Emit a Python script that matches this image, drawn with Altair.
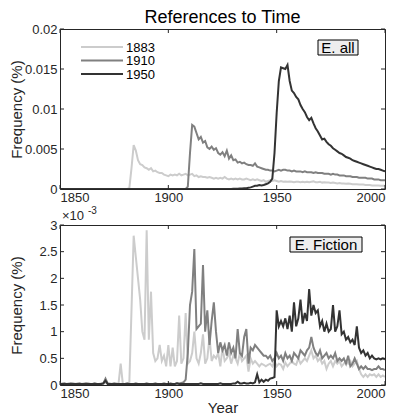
import altair as alt
import pandas as pd

# ---------------- data ----------------
years = list(range(1850, 2001))
series_names = ["1883", "1910", "1950"]
gray_colors = ["#cccccc", "#808080", "#333333"]
x_ticks = [1850, 1900, 1950, 2000]
y_ticks_all = [0, 0.005, 0.01, 0.015, 0.02]
y_ticks_fic = [0, 0.5, 1, 1.5, 2, 2.5, 3]
panel_labels = ["E. all", "E. Fiction"]
chart_title = "References to Time"
y_title = "Frequency (%)"
x_title = "Year"
exp_base = "\u00d710"
exp_power = "-3"

# "E. all" panel, values in units of 1e-3 percent (one value per year 1850..2000)
all_1883 = [
    0, 0, 0, 0, 0, 0, 0, 0, 0, 0,
    0, 0, 0, 0, 0, 0, 0, 0, 0, 0,
    0, 0, 0, 0, 0, 0, 0, 0, 0, 0,
    0, 0, 0.1, 2.6, 5.5, 4.8, 3.6, 3.1, 3.0, 2.7,
    2.6, 2.4, 2.6, 2.2, 2.3, 2.1, 2.0, 2.0, 1.8, 1.7,
    1.6, 1.8, 1.7, 1.8, 1.7, 1.9, 1.7, 1.8, 1.9, 1.7,
    1.8, 1.9, 1.6, 1.7, 1.5, 1.6, 1.5, 1.5, 1.4, 1.5,
    1.4, 1.3, 1.4, 1.3, 1.4, 1.3, 1.5, 1.3, 1.2, 1.3,
    1.2, 1.3, 1.2, 1.3, 1.2, 1.2, 1.3, 1.2, 1.1, 1.2,
    1.1, 1.2, 1.1, 1.0, 1.1, 0.9, 1.0, 1.1, 1.0, 1.1,
    1.0, 0.9, 1.0, 0.9, 0.95, 0.9, 0.95, 0.9, 0.85, 0.9,
    0.9, 0.85, 0.9, 0.85, 0.9, 0.85, 0.9, 0.95, 0.85, 0.85,
    0.9, 0.8, 0.85, 0.8, 0.8, 0.75, 0.8, 0.75, 0.7, 0.75,
    0.7, 0.7, 0.65, 0.7, 0.65, 0.6, 0.6, 0.6, 0.55, 0.55,
    0.55, 0.5, 0.5, 0.5, 0.45, 0.45, 0.45, 0.45, 0.4, 0.4,
    0.4,
]
all_1910 = [
    0, 0, 0, 0, 0, 0, 0, 0, 0, 0,
    0, 0, 0, 0, 0, 0, 0, 0, 0, 0,
    0, 0, 0, 0, 0, 0, 0, 0, 0, 0,
    0, 0, 0, 0, 0, 0, 0, 0, 0, 0,
    0, 0, 0, 0, 0, 0, 0, 0, 0, 0,
    0, 0, 0, 0, 0, 0, 0, 0, 0, 0.3,
    4.5, 8.0, 7.8, 7.0, 6.2, 6.5, 5.8, 6.0, 5.2, 5.0,
    5.3, 4.9, 5.1, 4.5, 4.3, 4.6, 4.1, 4.8, 3.8, 4.2,
    3.6, 3.7, 3.3, 3.4, 3.2, 3.3, 3.1, 3.0, 3.0, 2.9,
    3.2, 2.8, 2.7, 2.6, 2.5, 2.4, 2.4, 2.3, 2.3, 2.2,
    2.3, 2.4, 2.3, 2.4, 2.4, 2.3, 2.3, 2.2, 2.3, 2.2,
    2.2, 2.2, 2.1, 2.2, 2.1, 2.1, 2.1, 2.0, 2.1, 2.0,
    2.0, 2.0, 1.9, 1.9, 1.9, 1.8, 1.9, 1.8, 1.8, 1.7,
    1.7, 1.7, 1.6, 1.6, 1.6, 1.5, 1.5, 1.5, 1.4, 1.4,
    1.4, 1.4, 1.3, 1.3, 1.3, 1.2, 1.2, 1.2, 1.1, 1.1,
    1.1,
]
all_1950 = [
    0, 0, 0, 0, 0, 0, 0, 0, 0, 0,
    0, 0, 0, 0, 0, 0, 0, 0, 0, 0,
    0, 0, 0, 0, 0, 0, 0, 0, 0, 0,
    0, 0, 0, 0, 0, 0, 0, 0, 0, 0,
    0, 0, 0, 0, 0, 0, 0, 0, 0, 0,
    0, 0, 0, 0, 0, 0, 0, 0, 0, 0,
    0, 0, 0, 0, 0, 0, 0, 0, 0, 0,
    0, 0, 0, 0, 0, 0, 0, 0, 0, 0,
    0.02, 0.03, 0.03, 0.05, 0.05, 0.08, 0.1, 0.15, 0.2, 0.3,
    0.4, 0.4, 0.5, 0.45, 0.5, 0.6, 0.7, 0.9, 1.3, 4.5,
    9.5, 13.5, 15.2, 15.1, 15.0, 15.5, 13.5, 12.3, 12.0, 11.5,
    11.2, 10.5, 10.0, 9.6, 9.0, 8.6, 8.9, 8.2, 7.6, 7.2,
    6.7, 6.2, 6.3, 5.9, 5.6, 5.4, 5.1, 4.9, 4.7, 4.5,
    4.4, 4.2, 4.0, 3.9, 3.8, 3.6, 3.5, 3.4, 3.3, 3.2,
    3.1, 3.0, 2.9, 2.8, 2.7, 2.6, 2.5, 2.5, 2.4, 2.3,
    2.2,
]

# "E. Fiction" panel, values in units of 1e-3 percent
fic_1883 = [
    0.02, 0.03, 0.02, 0.02, 0.03, 0.02, 0.04, 0.02, 0.03, 0.02,
    0.02, 0.03, 0.02, 0.04, 0.02, 0.02, 0.03, 0.02, 0.02, 0.03,
    0.02, 0.04, 0.02, 0.03, 0.02, 0.02, 0.03, 0.02, 0.4, 0.02,
    0.02, 0.03, 0.05, 1.4, 2.8, 2.4, 2.0, 1.6, 1.0, 0.85,
    2.9, 0.85, 1.75, 0.6, 0.45, 0.5, 0.75, 0.45, 0.55, 0.35,
    0.75, 0.35, 0.7, 0.35, 0.45, 1.3, 0.4, 0.5, 1.35, 0.4,
    0.45, 0.6, 1.0, 0.5, 0.4, 0.6, 0.95, 0.4, 0.5, 0.9,
    0.45, 0.55, 0.5, 0.6, 0.35, 0.7, 0.45, 0.5, 0.6, 0.4,
    0.55, 0.5, 0.4, 0.6, 0.45, 0.5, 0.55, 0.25, 0.5, 0.4,
    0.45, 0.4, 0.35, 0.4, 0.38, 0.35, 0.38, 0.4, 0.35, 0.45,
    0.35, 0.4, 0.38, 0.3, 0.42, 0.35, 0.4, 0.45, 0.4, 0.38,
    0.5, 0.4, 0.45, 0.5, 0.45, 0.55, 0.65, 0.5, 0.55, 0.45,
    0.5, 0.4, 0.45, 0.3, 0.4, 0.45, 0.35, 0.45, 0.4, 0.45,
    0.35, 0.4, 0.45, 0.4, 0.45, 0.35, 0.4, 0.45, 0.3, 0.2,
    0.15, 0.2, 0.15, 0.2, 0.18, 0.2, 0.15, 0.2, 0.15, 0.18,
    0.15,
]
fic_1910 = [
    0.02, 0.02, 0.03, 0.02, 0.02, 0.03, 0.02, 0.02, 0.02, 0.03,
    0.02, 0.02, 0.03, 0.02, 0.02, 0.02, 0.03, 0.02, 0.02, 0.02,
    0.03, 0.12, 0.03, 0.02, 0.02, 0.03, 0.02, 0.02, 0.02, 0.02,
    0.02, 0.03, 0.02, 0.02, 0.02, 0.03, 0.02, 0.02, 0.02, 0.02,
    0.03, 0.02, 0.02, 0.02, 0.03, 0.02, 0.02, 0.02, 0.03, 0.02,
    0.02, 0.03, 0.02, 0.02, 0.03, 0.03, 0.04, 0.05, 0.1, 0.6,
    1.5, 1.75, 2.55, 1.05, 1.1, 1.15, 2.25, 1.0, 1.4, 0.75,
    1.2, 1.55, 1.0, 0.6, 0.8, 0.65, 0.75, 0.55, 0.8, 0.6,
    0.7, 0.5, 1.05, 0.6, 0.55, 0.9, 1.05, 0.4, 0.7, 0.65,
    0.75, 0.7, 0.65, 0.6, 0.55, 0.55, 0.5, 0.55, 0.45, 0.5,
    0.6, 0.5, 0.55, 0.45, 0.6, 0.5, 0.55, 0.45, 0.6, 0.55,
    0.5, 0.65, 0.6, 0.55, 0.65, 0.7, 0.9, 0.7, 0.6, 0.55,
    0.65, 0.5, 0.55, 0.6, 0.5, 0.55, 0.5, 0.6, 0.45, 0.5,
    0.45, 0.5, 0.4, 0.55, 0.35, 0.4, 0.5, 0.4, 0.3, 0.35,
    0.3, 0.35, 0.3, 0.3, 0.28, 0.3, 0.3, 0.35, 0.3, 0.3,
    0.28,
]
fic_1950 = [
    0.02, 0.02, 0.02, 0.02, 0.02, 0.02, 0.02, 0.02, 0.02, 0.02,
    0.02, 0.02, 0.02, 0.02, 0.02, 0.02, 0.02, 0.02, 0.02, 0.02,
    0.03, 0.08, 0.02, 0.02, 0.02, 0.02, 0.02, 0.02, 0.02, 0.02,
    0.02, 0.02, 0.02, 0.02, 0.02, 0.02, 0.02, 0.02, 0.02, 0.02,
    0.02, 0.02, 0.02, 0.02, 0.02, 0.02, 0.02, 0.02, 0.02, 0.02,
    0.02, 0.02, 0.02, 0.02, 0.03, 0.02, 0.02, 0.02, 0.02, 0.02,
    0.02, 0.02, 0.02, 0.02, 0.02, 0.03, 0.02, 0.02, 0.02, 0.02,
    0.02, 0.02, 0.02, 0.02, 0.03, 0.02, 0.02, 0.02, 0.02, 0.02,
    0.03, 0.03, 0.06, 0.03, 0.03, 0.04, 0.03, 0.03, 0.04, 0.03,
    0.05, 0.2, 0.05, 0.1, 0.06, 0.1, 0.08, 0.12, 0.13, 0.15,
    1.4, 1.1, 1.2, 1.1, 1.25, 1.05, 1.3, 1.0, 1.55, 1.1,
    1.25, 1.6, 1.15, 1.35, 1.2, 1.8, 1.3, 1.5, 1.35, 1.4,
    1.1, 1.2, 1.0, 1.15, 1.0, 1.05, 1.5, 1.0, 1.1, 1.4,
    0.95, 1.0, 0.85, 0.9, 0.8, 0.85, 0.75, 1.1, 0.7, 0.6,
    0.65, 0.55, 0.6, 0.5, 0.55, 0.5, 0.48, 0.5, 0.48, 0.5,
    0.48,
]


def long_frame(cols, factor):
    rows = []
    for name, vals in zip(series_names, cols):
        assert len(vals) == len(years), (name, len(vals))
        for yr, v in zip(years, vals):
            rows.append({"Year": yr, "value": v * factor, "series": name})
    return pd.DataFrame(rows)


df_all = long_frame([all_1883, all_1910, all_1950], 0.001)
df_fic = long_frame([fic_1883, fic_1910, fic_1950], 1.0)

# ---------------- style ----------------
W, H = 325, 160
FONT = "Liberation Sans"
AX = "#262626"
TL = 4
COLOR_SCALE = alt.Scale(domain=series_names, range=gray_colors)
LEG_X0, LEG_X1, LEG_TX = 21, 63, 66
LEG_Y0, LEG_DY = 18, 13.5


def legend_layers():
    out = []
    for i, name in enumerate(series_names):
        src = alt.Chart(pd.DataFrame({"series": [name]}))
        yy = LEG_Y0 + i * LEG_DY
        out.append(src.mark_rule(strokeWidth=2).encode(
            x=alt.value(LEG_X0), x2=alt.value(LEG_X1), y=alt.value(yy),
            color=alt.Color("series:N", scale=COLOR_SCALE, legend=None)))
        out.append(src.mark_text(font=FONT, fontSize=13, color="#000000", align="left", baseline="middle").encode(
            x=alt.value(LEG_TX), y=alt.value(yy + 0.5), text="series:N"))
    return out


def panel(df, yticks, ydomain, label, box_x, box_y, legend, is_bottom):
    xs = alt.Scale(domain=[1850, 2000], nice=False, zero=False)
    ys = alt.Scale(domain=ydomain, nice=False, zero=False)
    xaxis = alt.Axis(
        values=x_ticks, format="d", title=x_title if is_bottom else None,
        labelPadding=2, titlePadding=0,
    )
    yaxis = alt.Axis(
        values=yticks, labelExpr="format(datum.value, '~g')", title=y_title,
        labelPadding=3, titlePadding=0, minExtent=36, maxExtent=36,
    )
    X = alt.X("Year:Q", scale=xs, axis=xaxis)
    Y = alt.Y("value:Q", scale=ys, axis=yaxis)
    lines = alt.Chart(df).mark_line(strokeWidth=2, clip=True).encode(
        x=X, y=Y,
        color=alt.Color("series:N", scale=COLOR_SCALE, legend=None),
        order=alt.Order("Year:Q"),
    )
    xt = alt.Chart(pd.DataFrame({"Year": x_ticks}))
    xt_b = xt.mark_rule(color=AX, strokeWidth=1).encode(x=X, y=alt.value(H), y2=alt.value(H - TL))
    xt_t = xt.mark_rule(color=AX, strokeWidth=1).encode(x=X, y=alt.value(0), y2=alt.value(TL))
    yt = alt.Chart(pd.DataFrame({"value": yticks}))
    yt_l = yt.mark_rule(color=AX, strokeWidth=1).encode(y=Y, x=alt.value(0), x2=alt.value(TL))
    yt_r = yt.mark_rule(color=AX, strokeWidth=1).encode(y=Y, x=alt.value(W), x2=alt.value(W - TL))
    lab = alt.Chart(pd.DataFrame({"label": [label]}))
    rect = lab.mark_rect(fill="#eeeeee", stroke="#000000", strokeWidth=1).encode(
        x=alt.value(box_x[0]), x2=alt.value(box_x[1]), y=alt.value(box_y), y2=alt.value(box_y + 15))
    txt = lab.mark_text(font=FONT, fontSize=15, color="#000000", align="center", baseline="middle").encode(
        x=alt.value((box_x[0] + box_x[1]) / 2), y=alt.value(box_y + 8), text="label:N")
    layers = [lines, xt_b, xt_t, yt_l, yt_r, rect, txt]
    if legend:
        layers += legend_layers()
    if is_bottom:
        ex = alt.Chart(pd.DataFrame({"t": [exp_base], "p": [exp_power]}))
        e1 = ex.mark_text(font=FONT, fontSize=13, color=AX, align="left", baseline="alphabetic").encode(
            x=alt.value(2), y=alt.value(-5), text="t:N")
        e2 = ex.mark_text(font=FONT, fontSize=10, color=AX, align="left", baseline="alphabetic").encode(
            x=alt.value(28), y=alt.value(-11), text="p:N")
        layers += [e1, e2]
    return alt.layer(*layers).properties(width=W, height=H)


top = panel(df_all, y_ticks_all, [0, 0.02], panel_labels[0], (258, 298), 11, True, False).properties(
    title=alt.Title(chart_title, font=FONT, fontSize=18, fontWeight="normal", color="#000000",
                    anchor="middle", frame="group", offset=-4)
)
bottom = panel(df_fic, y_ticks_fic, [0, 3], panel_labels[1], (230, 302), 12, False, True)

chart = (
    alt.vconcat(top, bottom, spacing=0)
    .properties(padding={"left": 0, "top": 0, "right": 0, "bottom": 0})
    .configure_view(stroke=AX, strokeWidth=1)
    .configure_axis(
        labelFont=FONT, titleFont=FONT, labelColor=AX, titleColor=AX,
        labelFontSize=13, titleFontSize=15, titleFontWeight="normal",
        domain=False, ticks=False, grid=False,
    )
)

chart.save("out.html", embed_options={"renderer": "svg", "actions": False})
